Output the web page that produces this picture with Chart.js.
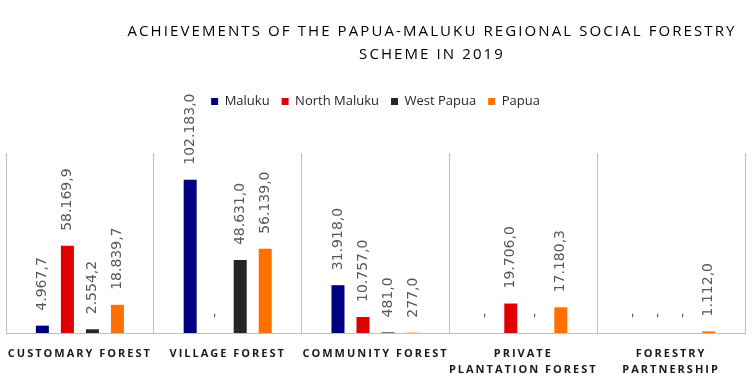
<!DOCTYPE html>
<html lang="en">
<head>
<meta charset="UTF-8">
<title>Papua-Maluku Social Forestry 2019</title>
<script src="https://cdn.jsdelivr.net/npm/chart.js"></script>
<style>
  html, body { margin: 0; padding: 0; background: #fff; }
  #wrap { width: 754px; height: 391px; position: relative; }
</style>
</head>
<body>
<div id="wrap"><canvas id="grafico"></canvas></div>
<script>
// data
const categories = [
  ['CUSTOMARY FOREST'],
  ['VILLAGE FOREST'],
  ['COMMUNITY FOREST'],
  ['PRIVATE', 'PLANTATION FOREST'],
  ['FORESTRY', 'PARTNERSHIP']
];
const maluku      = [4967.7, 102183.0, 31918.0, 0, 0];
const northMaluku = [58169.9, 0, 10757.0, 19706.0, 0];
const westPapua   = [2554.2, 48631.0, 481.0, 0, 0];
const papua       = [18839.7, 56139.0, 277.0, 17180.3, 1112.0];
const seriesNames = ['Maluku', 'North Maluku', 'West Papua', 'Papua'];
const titleLines  = ['ACHIEVEMENTS OF THE PAPUA-MALUKU REGIONAL SOCIAL FORESTRY', 'SCHEME IN 2019'];

const cores = ['#000080', '#e00000', '#262626', '#ff7000'];

// 58169.9 -> "58.169,9", zero -> "-"
function formata(v) {
  if (!v) return '-';
  const partes = v.toFixed(1).split('.');
  const inteiro = partes[0].replace(/\B(?=(\d{3})+(?!\d))/g, '.');
  return inteiro + ',' + partes[1];
}

// title drawn by hand, it sits right of centre in the original
const tituloPlugin = {
  id: 'tituloPlugin',
  afterDraw(chart) {
    const ctx = chart.ctx;
    ctx.save();
    ctx.font = '15px "Open Sans"';
    ctx.letterSpacing = '2.1px';
    ctx.fillStyle = '#000';
    ctx.textAlign = 'center';
    ctx.textBaseline = 'middle';
    ctx.fillText(titleLines[0], 432, 32);
    ctx.fillText(titleLines[1], 432, 55);
    ctx.restore();
  }
};

// rotated value labels above each bar
const rotulosPlugin = {
  id: 'rotulosPlugin',
  afterDatasetsDraw(chart) {
    const ctx = chart.ctx;
    ctx.save();
    ctx.font = '14px "DejaVu Sans"';
    ctx.fillStyle = '#595959';
    ctx.textAlign = 'left';
    ctx.textBaseline = 'middle';
    chart.data.datasets.forEach((ds, i) => {
      chart.getDatasetMeta(i).data.forEach((bar, j) => {
        ctx.save();
        ctx.translate(bar.x, bar.y - 15);
        ctx.rotate(-Math.PI / 2);
        ctx.fillText(formata(ds.data[j]), 0, 0);
        ctx.restore();
      });
    });
    ctx.restore();
  }
};

// extra room under the legend + letter spacing on the x labels
const ajustePlugin = {
  id: 'ajustePlugin',
  beforeInit(chart) {
    const fit = chart.legend.fit;
    chart.legend.fit = function () {
      fit.call(this);
      this.height = 70;
    };
  },
  beforeDraw(chart) {
    const x = chart.scales.x;
    if (x && !x._espacado) {
      const orig = x.drawLabels;
      x.drawLabels = function (area) {
        const ctx = this.ctx;
        ctx.save();
        ctx.letterSpacing = '2px';
        orig.call(this, area);
        ctx.restore();
      };
      x._espacado = true;
    }
  }
};

const series = [maluku, northMaluku, westPapua, papua];

new Chart(document.getElementById('grafico'), {
  type: 'bar',
  data: {
    labels: categories,
    datasets: series.map((d, i) => ({
      label: seriesNames[i],
      data: d,
      backgroundColor: cores[i],
      borderWidth: 0,
      categoryPercentage: 0.677,
      barPercentage: 0.52
    }))
  },
  options: {
    responsive: true,
    maintainAspectRatio: false,
    animation: false,
    layout: { padding: { top: 83, left: 6, right: 9, bottom: 0 } },
    plugins: {
      title: { display: false },
      tooltip: { enabled: false },
      legend: {
        display: true,
        position: 'top',
        labels: {
          boxWidth: 7,
          boxHeight: 7,
          padding: 12,
          color: '#262626',
          font: { family: '"Open Sans"', size: 13 }
        }
      }
    },
    scales: {
      x: {
        grid: {
          display: true,
          drawTicks: false,
          color: '#bfbfbf',
          lineWidth: 1
        },
        border: { display: true, color: '#bfbfbf', width: 1 },
        ticks: {
          padding: 13,
          color: '#1a1a1a',
          maxRotation: 0,
          autoSkip: false,
          font: { family: '"Open Sans"', size: 11, weight: 'bold', lineHeight: 1.45 }
        }
      },
      y: {
        display: false,
        min: 0,
        max: 120000
      }
    }
  },
  plugins: [tituloPlugin, rotulosPlugin, ajustePlugin]
});
</script>
</body>
</html>
